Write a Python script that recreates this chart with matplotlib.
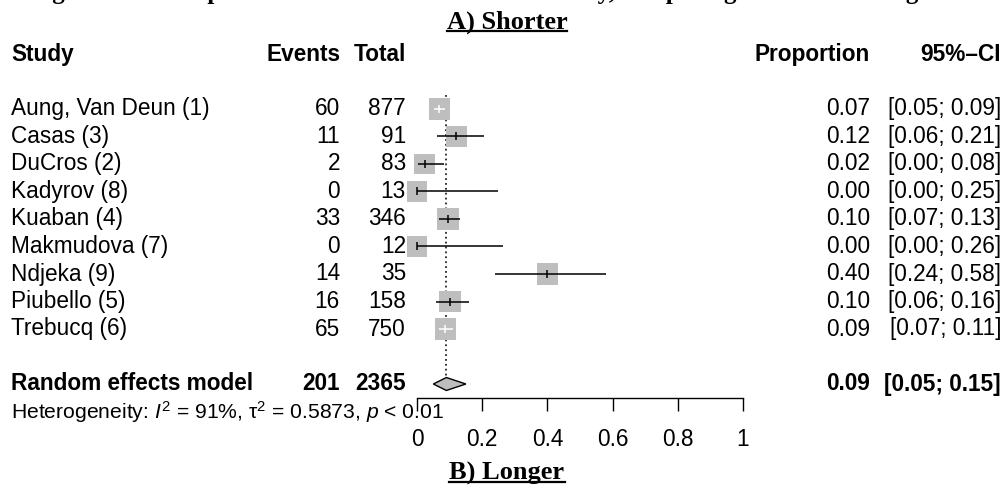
import matplotlib
matplotlib.use("Agg")
import matplotlib.pyplot as plt
from matplotlib.transforms import blended_transform_factory
from matplotlib.lines import Line2D
import numpy as np

# ---------------- data ----------------
studies = ["Aung, Van Deun (1)", "Casas (3)", "DuCros (2)", "Kadyrov (8)", "Kuaban (4)",
           "Makmudova (7)", "Ndjeka (9)", "Piubello (5)", "Trebucq (6)"]
events = [60, 11, 2, 0, 33, 0, 14, 16, 65]
totals = [877, 91, 83, 13, 346, 12, 35, 158, 750]
proportion = [0.068, 0.121, 0.024, 0.000, 0.0954, 0.000, 0.400, 0.101, 0.087]
ci_low = [0.052, 0.062, 0.003, 0.000, 0.066, 0.000, 0.239, 0.059, 0.067]
ci_high = [0.087, 0.206, 0.084, 0.247, 0.131, 0.2646, 0.579, 0.159, 0.109]
weights = [11.4, 11.3, 11.0, 10.8, 11.4, 10.8, 11.2, 11.3, 11.4]  # % weight (box area)

re_events = 201
re_total = 2365
re_prop = 0.09
re_low = 0.05
re_high = 0.15

het_text = r"Heterogeneity: $I^2$ = 91%, τ$^2$ = 0.5873, $p$ < 0.01"
xticks = [0, 0.2, 0.4, 0.6, 0.8, 1]
xticklabels = ["0", "0.2", "0.4", "0.6", "0.8", "1"]
top_title = "Figure 3: Forest plot of treatment failure in each study, comparing shorter and longer treatment"
title_a = "A) Shorter"
title_b = "B) Longer"

# ---------------- style ----------------
plt.rcParams["font.family"] = ["Liberation Sans", "DejaVu Sans"]
plt.rcParams["mathtext.fontset"] = "custom"
plt.rcParams["mathtext.rm"] = "Liberation Sans"
plt.rcParams["mathtext.it"] = "Liberation Sans:italic"
plt.rcParams["mathtext.bf"] = "Liberation Sans:bold"

W, H = 1008, 493
fig = plt.figure(figsize=(W / 100, H / 100), dpi=100)

ROW0_PX, ROW_STEP = 109.0, 27.5
def px2row(p):
    return (p - ROW0_PX) / ROW_STEP

X0_PX, X1_PX = 417.0, 743.0
ax = fig.add_axes([X0_PX / W, 0, (X1_PX - X0_PX) / W, 1])
ax.set_xlim(0, 1)
ax.set_ylim(px2row(H), px2row(0))
ax.patch.set_alpha(0)
for s in ["top", "left", "right"]:
    ax.spines[s].set_visible(False)
ax.set_yticks([])

FS = 16.3
FS_HET = 15.2
grey = "#BEBEBE"
rows = np.arange(len(studies))
re_row = len(studies) + 1

# dotted line at pooled estimate
ax.vlines(re_prop, -0.5, re_row - 0.25, colors="black", linestyles=(0, (1.2, 2.0)),
          linewidth=1.1, zorder=1, clip_on=False)

# squares
side_px = 6.3 * np.sqrt(np.array(weights))
side_pt = side_px * 72 / 100
ax.scatter(proportion, rows, s=side_pt ** 2, marker="s", color=grey, edgecolors="none",
           zorder=2, clip_on=False)

# CI lines (white if fully inside the box)
half_w = (side_px / 2) / (X1_PX - X0_PX)
for i in rows:
    inside = (proportion[i] - ci_low[i] < half_w[i]) and (ci_high[i] - proportion[i] < half_w[i])
    col = "white" if inside else "black"
    ax.plot([ci_low[i], ci_high[i]], [i, i], color=col, lw=1.1, zorder=3, clip_on=False,
            solid_capstyle="butt")
    ax.plot([proportion[i]], [i], marker="|", markersize=6, markeredgewidth=1.1, color=col,
            zorder=4, clip_on=False)

# diamond
dh = 0.235
ax.fill([re_low, re_prop, re_high, re_prop], [re_row, re_row - dh, re_row, re_row + dh],
        facecolor=grey, edgecolor="black", linewidth=1.0, zorder=3, clip_on=False)

# x axis
axis_row = px2row(398)
ax.spines["bottom"].set_position(("data", axis_row))
ax.spines["bottom"].set_bounds(0, 1)
ax.spines["bottom"].set_linewidth(1.0)
ax.set_xticks(xticks)
ax.set_xticklabels(xticklabels)
ax.tick_params(axis="x", direction="out", length=9.5, width=1.0, pad=12, labelsize=FS)

# ---------------- text columns ----------------
tr = blended_transform_factory(fig.transFigure, ax.transData)
def fx(px):
    return px / W

X_STUDY, X_EVENTS, X_TOTAL, X_PROP, X_CI = 11, 340, 406, 870, 1001
hdr_row = px2row(55)
kw = dict(transform=tr, va="center", fontsize=FS)
ax.text(fx(X_STUDY), hdr_row, "Study", ha="left", fontweight="bold", **kw)
ax.text(fx(X_EVENTS), hdr_row, "Events", ha="right", fontweight="bold", **kw)
ax.text(fx(X_TOTAL), hdr_row, "Total", ha="right", fontweight="bold", **kw)
ax.text(fx(X_PROP), hdr_row, "Proportion", ha="right", fontweight="bold", **kw)
ax.text(fx(X_CI), hdr_row, "95%–CI", ha="right", fontweight="bold", **kw)

for i in rows:
    ax.text(fx(X_STUDY), i, studies[i], ha="left", **kw)
    ax.text(fx(X_EVENTS), i, f"{events[i]}", ha="right", **kw)
    ax.text(fx(X_TOTAL), i, f"{totals[i]}", ha="right", **kw)
    ax.text(fx(X_PROP), i, f"{proportion[i]:.2f}", ha="right", **kw)
    ax.text(fx(X_CI), i, f"[{ci_low[i]:.2f}; {ci_high[i]:.2f}]", ha="right", **kw)

ax.text(fx(X_STUDY), re_row, "Random effects model", ha="left", fontweight="bold", **kw)
ax.text(fx(X_EVENTS), re_row, f"{re_events}", ha="right", fontweight="bold", **kw)
ax.text(fx(X_TOTAL), re_row, f"{re_total}", ha="right", fontweight="bold", **kw)
ax.text(fx(X_PROP), re_row, f"{re_prop:.2f}", ha="right", fontweight="bold", **kw)
ax.text(fx(X_CI), re_row, f"[{re_low:.2f}; {re_high:.2f}]", ha="right", fontweight="bold", **kw)

ax.text(fx(X_STUDY), px2row(412), het_text, ha="left", va="center", fontsize=FS_HET, transform=tr,
        zorder=0)

# ---------------- serif titles ----------------
serif = dict(family="Liberation Serif", fontweight="bold")
fig.text(fx(30), 1 + 0.5 / H, top_title, ha="left", va="baseline", fontsize=18, **serif)
ta = fig.text(fx(507), 1 - 22 / H, title_a, ha="center", va="center", fontsize=19, **serif)
tb = fig.text(fx(507), 1 - 473 / H, title_b, ha="center", va="center", fontsize=19, **serif)

fig.canvas.draw()
rend = fig.canvas.get_renderer()
for t in (ta, tb):
    bb = t.get_window_extent(renderer=rend)
    y = bb.y0 + 2.5
    fig.add_artist(Line2D([bb.x0 / W, bb.x1 / W], [y / H, y / H], transform=fig.transFigure,
                          color="black", lw=1.6))

fig.savefig("out.png", dpi=100)
